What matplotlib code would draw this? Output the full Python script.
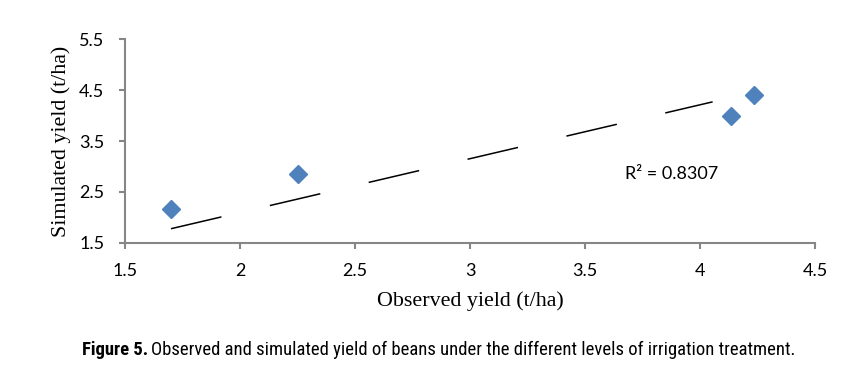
import matplotlib
matplotlib.use("Agg")
import matplotlib.pyplot as plt
from matplotlib import font_manager as fm

# Data
observed = [1.70, 2.25, 4.135, 4.235]
simulated = [2.17, 2.85, 3.99, 4.40]
trend_x = [1.70, 4.055]
trend_y = [1.775, 4.27]
r2_label = "R² = 0.8307"
x_ticks = [1.5, 2, 2.5, 3, 3.5, 4, 4.5]
x_tick_labels = ["1.5", "2", "2.5", "3", "3.5", "4", "4.5"]
y_ticks = [1.5, 2.5, 3.5, 4.5, 5.5]
y_tick_labels = ["1.5", "2.5", "3.5", "4.5", "5.5"]
caption_bold = "Figure 5."
caption_rest = "Observed and simulated yield of beans under the different levels of irrigation treatment."

plt.rcParams['lines.scale_dashes'] = False

W, H = 868, 379
fig = plt.figure(figsize=(W / 100, H / 100), dpi=100)
ax = fig.add_axes([125 / W, 1 - 242.7 / H, 690 / W, 203.4 / H])

ax.plot(trend_x, trend_y, color='black', linewidth=1.1, dashes=(37.3, 35.8))
ax.plot(observed, simulated, linestyle='none', marker='D', markersize=9.5,
        color='#4F81BD', markeredgecolor='#4F81BD', zorder=3)

ax.set_xlim(1.5, 4.5)
ax.set_ylim(1.5, 5.5)
ax.set_xticks(x_ticks)
ax.set_xticklabels(x_tick_labels)
ax.set_yticks(y_ticks)
ax.set_yticklabels(y_tick_labels)

tick_font = ['Lato', 'DejaVu Sans']
for lab in ax.get_xticklabels() + ax.get_yticklabels():
    lab.set_family(tick_font)
    lab.set_fontsize(13)

for s in ['top', 'right']:
    ax.spines[s].set_visible(False)
for s in ['left', 'bottom']:
    ax.spines[s].set_color('#868686')
    ax.spines[s].set_linewidth(1.5)
ax.tick_params(axis='both', direction='out', length=4.5, width=1.5,
               color='#868686', labelcolor='black')
ax.tick_params(axis='x', pad=10)
ax.tick_params(axis='y', pad=10.5)

ax.text(3.676, 2.85, r2_label, family=tick_font, fontsize=13,
        ha='left', va='center')

ax.set_xlabel("Observed yield (t/ha)", family=['Liberation Serif'], fontsize=15.8)
ax.xaxis.set_label_coords(0.5, -(291 - 242.7) / 203.4)
ax.set_ylabel("Simulated yield (t/ha)", family=['Liberation Serif'], fontsize=15.8)
ax.yaxis.set_label_coords((71 - 125) / 690, 0.5)

# caption font: prefer a condensed face if installed
names = {f.name for f in fm.fontManager.ttflist}
cap_family = ['Roboto', 'DejaVu Sans']
cap_stretch = 'normal'
for cand in ['Liberation Sans Narrow', 'Roboto Condensed', 'Open Sans Condensed',
             'Arial Narrow', 'Archivo Narrow']:
    if cand in names:
        cap_family = [cand, 'DejaVu Sans']
        break
else:
    if any(f.name == 'DejaVu Sans' and 'condensed' in str(f.stretch).lower()
           for f in fm.fontManager.ttflist):
        cap_family = ['DejaVu Sans']
        cap_stretch = 'condensed'

x0 = 82.0
base = 15.0
baseline_y = 1 - 355 / H
t1 = fig.text(x0 / W, baseline_y, caption_bold, family=cap_family,
              stretch=cap_stretch, fontsize=base, fontweight='bold',
              va='baseline', ha='left')
t2 = fig.text(0, baseline_y, caption_rest, family=cap_family,
              stretch=cap_stretch, fontsize=base, va='baseline', ha='left')
fig.canvas.draw()
r = fig.canvas.get_renderer()
gap = 3.0
w1 = t1.get_window_extent(r).width
w2 = t2.get_window_extent(r).width
scale = (794 - x0 - gap) / (w1 + w2)
size = min(base, base * scale)
t1.set_fontsize(size)
t2.set_fontsize(size)
fig.canvas.draw()
w1 = t1.get_window_extent(r).width
t2.set_x((x0 + w1 + gap) / W)

fig.savefig("out.png", dpi=100)
